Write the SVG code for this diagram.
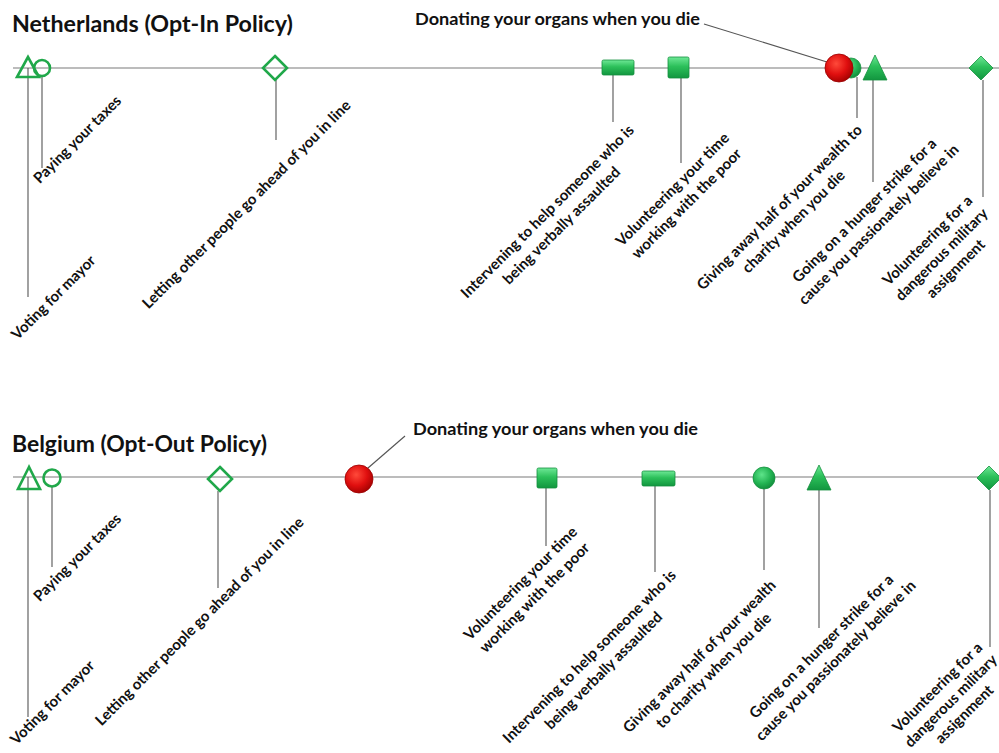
<svg xmlns="http://www.w3.org/2000/svg" width="999" height="753" viewBox="0 0 999 753">
<defs>
<linearGradient id="gGreen" x1="0" y1="0" x2="0" y2="1">
<stop offset="0" stop-color="#6ee896"/>
<stop offset="0.45" stop-color="#2cc05a"/>
<stop offset="1" stop-color="#12963f"/>
</linearGradient>
<radialGradient id="gGreenC" cx="0.4" cy="0.35" r="0.7">
<stop offset="0" stop-color="#5ee48a"/>
<stop offset="0.6" stop-color="#22b352"/>
<stop offset="1" stop-color="#11893a"/>
</radialGradient>
<radialGradient id="gRed" cx="0.4" cy="0.35" r="0.7">
<stop offset="0" stop-color="#ff4a3a"/>
<stop offset="0.55" stop-color="#e00f0f"/>
<stop offset="1" stop-color="#a00000"/>
</radialGradient>
</defs>
<style>
.axis{stroke:#a6a6a6;stroke-width:1.3;fill:none}
.lead{stroke:#555;stroke-width:1.1;fill:none}
.out{fill:none;stroke:#20a84a;stroke-width:2.6;stroke-linejoin:miter}
.fill{fill:url(#gGreen);stroke:#15903f;stroke-width:0.8}
.fillc{fill:url(#gGreenC);stroke:#15903f;stroke-width:0.8}
.red{fill:url(#gRed);stroke:#9a0000;stroke-width:0.8}
.title{font-family:Lato,"Liberation Sans",sans-serif;font-weight:bold;font-size:22px;fill:#111}
.head{font-family:Lato,"Liberation Sans",sans-serif;font-weight:bold;font-size:17.5px;fill:#111}
.lbl{font-family:Lato,"Liberation Sans",sans-serif;font-weight:bold;font-size:15px;fill:#111;text-anchor:middle}
</style>
<rect width="999" height="753" fill="#fff"/>

<!-- titles -->
<text class="title" x="12" y="32" textLength="281" lengthAdjust="spacingAndGlyphs">Netherlands (Opt-In Policy)</text>
<text class="head" x="415" y="25" textLength="285" lengthAdjust="spacingAndGlyphs">Donating your organs when you die</text>
<text class="title" x="12" y="452" textLength="255" lengthAdjust="spacingAndGlyphs">Belgium (Opt-Out Policy)</text>
<text class="head" x="413" y="435" textLength="285" lengthAdjust="spacingAndGlyphs">Donating your organs when you die</text>

<!-- axes -->
<g id="axes">
<line class="axis" x1="13" y1="68" x2="999" y2="68"/>
<line class="axis" x1="13" y1="477" x2="999" y2="477"/>
</g>

<!-- connectors -->
<g id="connectors">
<line class="lead" x1="28" y1="68" x2="28" y2="297"/>
<line class="lead" x1="42" y1="76" x2="42" y2="168"/>
<line class="lead" x1="276" y1="80" x2="276" y2="140"/>
<line class="lead" x1="613" y1="75" x2="613" y2="122"/>
<line class="lead" x1="681" y1="78" x2="681" y2="163"/>
<line class="lead" x1="857" y1="77" x2="857" y2="118"/>
<line class="lead" x1="873" y1="80" x2="873" y2="182"/>
<line class="lead" x1="983" y1="80" x2="983" y2="197"/>
<line class="lead" x1="704" y1="24" x2="827" y2="62"/>

<line class="lead" x1="28" y1="477" x2="28" y2="717"/>
<line class="lead" x1="52" y1="486" x2="52" y2="567"/>
<line class="lead" x1="218" y1="491" x2="218" y2="588"/>
<line class="lead" x1="546" y1="488" x2="546" y2="546"/>
<line class="lead" x1="655" y1="486" x2="655" y2="572"/>
<line class="lead" x1="764" y1="489" x2="764" y2="570"/>
<line class="lead" x1="819" y1="490" x2="819" y2="628"/>
<line class="lead" x1="990" y1="490" x2="990" y2="647"/>
<line class="lead" x1="368" y1="468" x2="405" y2="436"/>
</g>

<!-- top panel nodes -->
<g id="nl-voting">
<polygon class="out" points="28,57 17,77 39,77"/>
<g transform="translate(57,301) rotate(-45)"><text class="lbl" x="0" y="0">Voting for mayor</text></g>
</g>
<g id="nl-taxes">
<circle class="out" cx="42" cy="68" r="8"/>
<g transform="translate(81,143) rotate(-45)"><text class="lbl" x="0" y="0">Paying your taxes</text></g>
</g>
<g id="nl-line">
<polygon class="out" points="275,56 287,68 275,80 263,68"/>
<g transform="translate(250,208) rotate(-45)"><text class="lbl" x="0" y="0">Letting other people go ahead of you in line</text></g>
</g>
<g id="nl-intervening">
<rect class="fill" x="602" y="60" width="32" height="15" rx="1.5"/>
<g transform="translate(551,215) rotate(-45)"><text class="lbl" x="0" y="0">Intervening to help someone who is</text><text class="lbl" x="0" y="20">being verbally assaulted</text></g>
</g>
<g id="nl-volunteer-poor">
<rect class="fill" x="668" y="57" width="21" height="21" rx="1.5"/>
<g transform="translate(676,193) rotate(-45)"><text class="lbl" x="0" y="0">Volunteering your time</text><text class="lbl" x="0" y="20">working with the poor</text></g>
</g>
<g id="nl-wealth">
<circle class="fillc" cx="851" cy="68" r="10"/>
<g transform="translate(783,211) rotate(-45)"><text class="lbl" x="0" y="0">Giving away half of your wealth to</text><text class="lbl" x="0" y="20">charity when you die</text></g>
</g>
<g id="nl-organs">
<circle class="red" cx="839" cy="68" r="14"/>
</g>
<g id="nl-hunger">
<polygon class="fill" points="875,55 863,80 887,80"/>
<g transform="translate(868,214) rotate(-45)"><text class="lbl" x="0" y="0">Going on a hunger strike for a</text><text class="lbl" x="0" y="20">cause you passionately believe in</text></g>
</g>
<g id="nl-military">
<polygon class="fill" points="981,56 993,68 981,80 969,68"/>
<g transform="translate(931,244) rotate(-45)"><text class="lbl" x="0" y="0">Volunteering for a</text><text class="lbl" x="0" y="20">dangerous military</text><text class="lbl" x="0" y="40">assignment</text></g>
</g>

<!-- bottom panel nodes -->
<g id="be-voting">
<polygon class="out" points="29,467 18,489 40,489"/>
<g transform="translate(56,706) rotate(-45)"><text class="lbl" x="0" y="0">Voting for mayor</text></g>
</g>
<g id="be-taxes">
<circle class="out" cx="52" cy="478" r="8.5"/>
<g transform="translate(81,561) rotate(-45)"><text class="lbl" x="0" y="0">Paying your taxes</text></g>
</g>
<g id="be-line">
<polygon class="out" points="220,467 232,479 220,491 208,479"/>
<g transform="translate(203,625) rotate(-45)"><text class="lbl" x="0" y="0">Letting other people go ahead of you in line</text></g>
</g>
<g id="be-organs">
<circle class="red" cx="359" cy="479" r="14"/>
</g>
<g id="be-volunteer-poor">
<rect class="fill" x="537" y="468" width="20" height="20" rx="1.5"/>
<g transform="translate(524,587) rotate(-45)"><text class="lbl" x="0" y="0">Volunteering your time</text><text class="lbl" x="0" y="20">working with the poor</text></g>
</g>
<g id="be-intervening">
<rect class="fill" x="642" y="471" width="33" height="15" rx="1.5"/>
<g transform="translate(593,660) rotate(-45)"><text class="lbl" x="0" y="0">Intervening to help someone who is</text><text class="lbl" x="0" y="20">being verbally assaulted</text></g>
</g>
<g id="be-wealth">
<circle class="fillc" cx="764" cy="478" r="11"/>
<g transform="translate(703,660) rotate(-45)"><text class="lbl" x="0" y="0">Giving away half of your wealth</text><text class="lbl" x="0" y="20">to charity when you die</text></g>
</g>
<g id="be-hunger">
<polygon class="fill" points="819,465 807,490 831,490"/>
<g transform="translate(825,650) rotate(-45)"><text class="lbl" x="0" y="0">Going on a hunger strike for a</text><text class="lbl" x="0" y="20">cause you passionately believe in</text></g>
</g>
<g id="be-military">
<polygon class="fill" points="989,466 1001,478 989,490 977,478"/>
<g transform="translate(941,691) rotate(-45)"><text class="lbl" x="0" y="0">Volunteering for a</text><text class="lbl" x="0" y="19">dangerous military</text><text class="lbl" x="0" y="38">assignment</text></g>
</g>
</svg>
